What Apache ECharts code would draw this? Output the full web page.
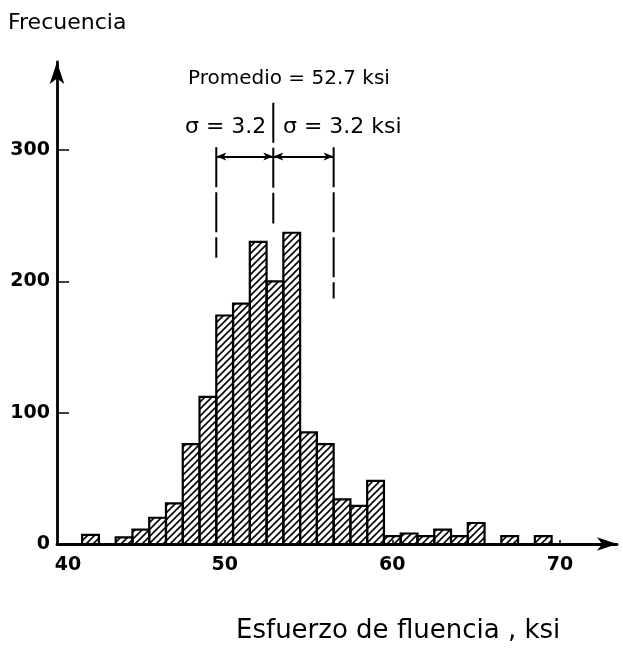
<!DOCTYPE html>
<html>
<head>
<meta charset="utf-8">
<script src="https://cdn.jsdelivr.net/npm/echarts@6/dist/echarts.min.js"></script>
<style>
html, body { margin: 0; padding: 0; background: #fff; }
#hist { width: 623px; height: 655px; }
</style>
</head>
<body>
<div id="hist"></div>
<script>
// histograma: centro de clase (ksi) y frecuencia
var binCenters = [42, 43, 44, 45, 46, 47, 48, 49, 50, 51, 52, 53, 54, 55,
                  56, 57, 58, 59, 60, 61, 62, 63, 64, 65, 66, 67, 68, 69];
var counts     = [7, 0, 5, 11, 20, 31, 76, 112, 174, 183, 230, 200, 237, 85,
                  76, 34, 29, 48, 6, 8, 6, 11, 6, 16, 0, 6, 0, 6];
var xTickLabels = [40, 50, 60, 70];
var yTickLabels = [0, 100, 200, 300];
// lineas de promedio y desviacion (x en ksi, y en frecuencia)
var sigmaLeft  = [[49.5, 302], [49.5, 218]];
var meanLine   = [[52.9, 336], [52.9, 244]];
var sigmaRight = [[56.5, 302], [56.5, 187]];
var arrowY = 295;

// rayado diagonal
var tile = document.createElement('canvas');
tile.width = 7; tile.height = 7;
var ctx = tile.getContext('2d');
ctx.strokeStyle = '#000';
ctx.lineWidth = 1.6;
ctx.beginPath();
ctx.moveTo(0, 7); ctx.lineTo(7, 0);
ctx.moveTo(-1, 1); ctx.lineTo(1, -1);
ctx.moveTo(6, 8); ctx.lineTo(8, 6);
ctx.stroke();

var histData = binCenters.map(function (c, i) { return [c, counts[i]]; });

function renderBar(params, api) {
    var c = api.value(0), n = api.value(1);
    if (!n) return;
    var p0 = api.coord([c - 0.5, 0]);
    var p1 = api.coord([c + 0.5, n]);
    return {
        type: 'rect',
        shape: { x: p0[0], y: p1[1], width: p1[0] - p0[0], height: p0[1] - p1[1] },
        style: { fill: { image: tile, repeat: 'repeat' }, stroke: '#000', lineWidth: 2.2 }
    };
}

var dashed = { color: '#000', width: 2, type: [40, 5] };

var myChart = echarts.init(document.getElementById('hist'));
var option = {
    animation: false,
    grid: { left: 57, right: 6, top: 62, bottom: 111, containLabel: false },
    xAxis: {
        type: 'value',
        min: 40,
        max: 73.4,
        interval: 10,
        splitLine: { show: false },
        axisLine: { lineStyle: { color: '#000', width: 2.8 }, symbol: ['none', 'arrow'], symbolSize: [10, 20] },
        axisTick: { show: true, inside: true, length: 4, customValues: [50, 60, 70], lineStyle: { color: '#000', width: 1.5 } },
        axisLabel: {
            customValues: xTickLabels,
            margin: 12,
            color: '#000',
            fontFamily: 'DejaVu Sans',
            fontWeight: 'bold',
            fontSize: 19,
            formatter: function (v) { return v === 40 ? '{a|40}' : String(v); },
            rich: { a: { padding: [0, 0, 0, 22], fontFamily: 'DejaVu Sans', fontWeight: 'bold', fontSize: 19, color: '#000' } }
        }
    },
    yAxis: {
        type: 'value',
        min: 0,
        max: 367,
        interval: 100,
        splitLine: { show: false },
        axisLine: { show: true, lineStyle: { color: '#000', width: 2.8 }, symbol: ['none', 'arrow'], symbolSize: [11, 22] },
        axisTick: { show: true, inside: true, length: 12, customValues: [100, 200, 300], lineStyle: { color: '#000', width: 1.5 } },
        axisLabel: {
            customValues: yTickLabels,
            margin: 7,
            color: '#000',
            fontFamily: 'DejaVu Sans',
            fontWeight: 'bold',
            fontSize: 19
        }
    },
    graphic: [
        { type: 'text', left: 8, top: 12, style: { text: 'Frecuencia', fontFamily: 'DejaVu Sans', fontSize: 22, fill: '#000' } },
        { type: 'text', left: 188, top: 69, style: { text: 'Promedio = 52.7 ksi', fontFamily: 'DejaVu Sans', fontSize: 20, fill: '#000' } },
        { type: 'text', left: 185, top: 116, style: { text: 'σ = 3.2', fontFamily: 'DejaVu Sans', fontSize: 22, fill: '#000' } },
        { type: 'text', left: 283, top: 116, style: { text: 'σ = 3.2 ksi', fontFamily: 'DejaVu Sans', fontSize: 22, fill: '#000' } },
        { type: 'text', left: 236, top: 618, style: { text: 'Esfuerzo de fluencia , ksi', fontFamily: 'DejaVu Sans', fontSize: 26, fill: '#000' } }
    ],
    series: [
        {
            type: 'custom',
            renderItem: renderBar,
            data: histData,
            encode: { x: 0, y: 1 },
            z: 1
        },
        { type: 'line', data: sigmaLeft, symbol: 'none', lineStyle: dashed, silent: true },
        { type: 'line', data: meanLine, symbol: 'none', lineStyle: dashed, silent: true },
        { type: 'line', data: sigmaRight, symbol: 'none', lineStyle: dashed, silent: true },
        {
            type: 'line',
            data: [],
            silent: true,
            markLine: {
                silent: true,
                symbol: ['arrow', 'arrow'],
                symbolSize: [6, 10],
                label: { show: false },
                lineStyle: { color: '#000', width: 1.8, type: 'solid' },
                data: [
                    [{ coord: [sigmaLeft[0][0], arrowY] }, { coord: [meanLine[0][0], arrowY] }],
                    [{ coord: [meanLine[0][0], arrowY] }, { coord: [sigmaRight[0][0], arrowY] }]
                ]
            }
        }
    ]
};
if (option && typeof option === "object") {
    myChart.setOption(option, true);
}
</script>
</body>
</html>
